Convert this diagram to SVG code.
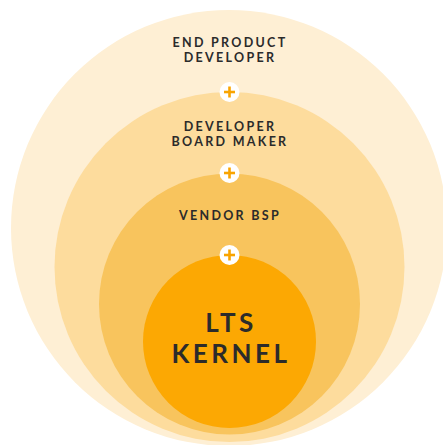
<svg xmlns="http://www.w3.org/2000/svg" width="443" height="445" viewBox="0 0 443 445">
  <style>
    .label { font-family: Lato, "Noto Sans", "Liberation Sans", sans-serif; font-weight: 700; fill: #2b2b2b; text-anchor: middle; }
    .small { font-size: 12.5px; letter-spacing: 2.3px; }
    .big { font-size: 26px; letter-spacing: 3.5px; }
    .badge { fill: #ffffff; }
    .plus { stroke: #f9a400; stroke-width: 2.6; stroke-linecap: butt; }
  </style>
  <defs>
    <g id="plus-badge">
      <circle class="badge" r="10"/>
      <line class="plus" x1="-5.5" y1="0" x2="5.5" y2="0"/>
      <line class="plus" x1="0" y1="-5.5" x2="0" y2="5.5"/>
    </g>
  </defs>

  <rect width="443" height="445" fill="#ffffff"/>

  <!-- outermost layer -->
  <g id="end-product-developer">
    <circle cx="229" cy="228" r="218" fill="#feefd4"/>
    <text class="label small" x="230" y="47">END PRODUCT</text>
    <text class="label small" x="230" y="62.2">DEVELOPER</text>
  </g>

  <g id="developer-board-maker">
    <circle cx="229.5" cy="267" r="175" fill="#fddc9d"/>
    <text class="label small" x="230" y="131">DEVELOPER</text>
    <text class="label small" x="230" y="146.2">BOARD MAKER</text>
  </g>

  <g id="vendor-bsp">
    <circle cx="229.5" cy="304" r="130.5" fill="#f8c45d"/>
    <text class="label small" x="230" y="220">VENDOR BSP</text>
  </g>

  <!-- core -->
  <g id="lts-kernel">
    <circle cx="229.5" cy="341.5" r="86.5" fill="#fca803"/>
    <text class="label big" x="231" y="332">LTS</text>
    <text class="label big" x="231" y="363">KERNEL</text>
  </g>

  <!-- plus badges joining each layer to the next -->
  <g id="connectors">
    <use href="#plus-badge" x="229.5" y="92"/>
    <use href="#plus-badge" x="229.5" y="173"/>
    <use href="#plus-badge" x="229.5" y="255"/>
  </g>
</svg>
